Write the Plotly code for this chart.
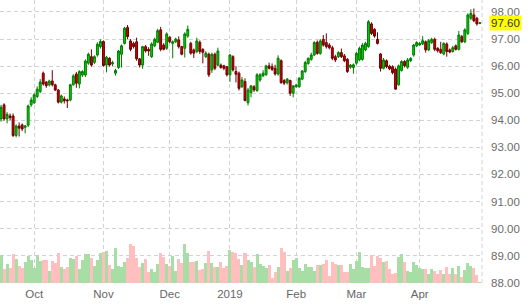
import pandas as pd
import plotly.graph_objects as go

# ---- data ----
start_date = "2018-09-14"
holidays = ["2018-12-25", "2019-01-01"]
n_bars = 160

open_ = [94.05, 94.57, 94.05, 94.16, 94.16, 93.44, 93.79, 93.83, 93.74, 93.82,
         94.57, 94.65, 94.88, 95.06, 95.74, 95.41, 95.31, 95.45, 95.31, 95.12,
         94.67, 94.79, 94.75, 94.75, 95.31, 95.71, 95.34, 95.67, 95.67, 96.11,
         96.35, 96.14, 96.41, 96.72, 96.91, 96.04, 96.29, 96.08, 95.74, 95.95,
         96.44, 96.84, 97.43, 96.93, 96.84, 96.90, 96.27, 96.04, 96.72, 96.62,
         96.35, 96.75, 96.88, 97.34, 96.78, 96.66, 97.07, 96.84, 96.90, 96.97,
         96.72, 96.66, 97.11, 96.84, 96.60, 96.54, 96.88, 96.62, 96.35, 96.44,
         95.86, 96.44, 96.04, 96.04, 96.01, 95.98, 95.68, 96.35, 95.80, 95.74,
         95.24, 95.43, 94.65, 95.02, 95.24, 95.10, 95.49, 95.64, 95.68, 96.01,
         95.98, 95.92, 95.71, 96.20, 95.47, 95.39, 95.47, 95.00, 95.24, 95.24,
         95.52, 95.80, 96.10, 96.25, 96.41, 96.88, 96.47, 96.99, 96.87, 96.78,
         96.68, 96.35, 96.35, 96.50, 96.38, 96.25, 95.96, 95.95, 96.11, 96.23,
         96.25, 96.60, 96.72, 97.56, 97.36, 96.99, 96.45, 95.92, 96.20, 96.00,
         95.98, 95.89, 95.31, 95.84, 96.17, 95.96, 96.20, 96.41, 96.75, 96.78,
         96.82, 96.90, 96.60, 96.87, 96.99, 96.66, 96.62, 96.45, 96.82, 96.60,
         96.54, 96.75, 96.62, 97.09, 96.90, 97.21, 97.77, 97.89, 97.77, 97.58]
high = [94.57, 94.63, 94.30, 94.25, 94.25, 93.85, 93.92, 93.88, 93.83, 94.58,
        94.85, 95.00, 95.25, 95.52, 95.80, 95.45, 95.50, 95.85, 95.35, 95.15,
        94.95, 94.88, 94.80, 95.35, 95.70, 95.78, 95.85, 95.85, 96.25, 96.50,
        96.62, 96.40, 96.88, 96.99, 96.95, 96.38, 96.33, 96.20, 95.90, 96.60,
        96.80, 97.45, 97.52, 97.00, 96.90, 97.05, 96.30, 96.75, 96.78, 96.70,
        96.88, 97.05, 97.38, 97.45, 96.85, 97.25, 97.10, 96.95, 97.05, 97.10,
        96.75, 97.25, 97.50, 96.90, 96.65, 97.05, 96.95, 96.66, 96.55, 96.50,
        96.50, 96.50, 96.68, 96.10, 96.05, 96.00, 96.45, 96.40, 96.00, 95.80,
        95.60, 95.55, 95.20, 95.30, 95.30, 95.74, 95.74, 95.85, 96.05, 96.13,
        96.10, 96.05, 96.40, 96.25, 95.52, 95.56, 95.50, 95.30, 95.35, 95.60,
        95.85, 96.20, 96.32, 96.50, 96.92, 96.95, 97.00, 97.15, 97.21, 96.85,
        96.75, 96.42, 96.55, 96.65, 96.45, 96.30, 96.08, 96.10, 96.52, 96.72,
        96.85, 96.90, 97.70, 97.62, 97.40, 97.25, 96.48, 96.30, 96.25, 96.05,
        96.03, 95.95, 96.06, 96.22, 96.22, 96.30, 96.33, 96.82, 96.92, 96.90,
        97.11, 96.95, 97.00, 97.05, 97.05, 96.70, 96.90, 96.88, 96.88, 96.65,
        96.75, 96.80, 97.30, 97.15, 97.40, 97.95, 98.10, 98.13, 97.82, 97.63]
low = [93.95, 93.98, 93.89, 94.00, 93.38, 93.37, 93.40, 93.60, 93.52, 93.75,
       94.50, 94.60, 94.82, 95.00, 95.28, 95.20, 95.25, 95.25, 95.08, 94.62,
       94.62, 94.62, 94.45, 94.70, 95.28, 95.20, 95.18, 95.60, 95.60, 96.05,
       95.98, 96.08, 96.35, 96.65, 95.98, 95.77, 95.98, 96.00, 95.65, 95.90,
       95.95, 96.80, 97.00, 96.55, 96.65, 96.20, 95.95, 95.90, 96.50, 96.38,
       96.30, 96.70, 96.85, 96.55, 96.58, 96.60, 96.85, 96.29, 96.85, 96.65,
       96.40, 96.32, 97.05, 96.42, 96.30, 96.48, 96.45, 96.10, 96.30, 95.60,
       95.75, 95.85, 96.00, 95.90, 95.85, 95.62, 95.42, 95.80, 95.40, 95.10,
       95.20, 94.70, 94.55, 94.85, 95.05, 95.05, 95.42, 95.60, 95.65, 95.88,
       95.82, 95.65, 95.65, 95.35, 95.30, 95.32, 94.90, 94.85, 95.20, 95.20,
       95.48, 95.75, 96.05, 96.20, 96.38, 96.42, 96.42, 96.72, 96.65, 96.62,
       96.22, 96.15, 96.30, 96.30, 96.15, 95.75, 95.90, 95.72, 96.05, 96.18,
       96.20, 96.55, 96.68, 97.15, 97.05, 96.80, 95.80, 95.88, 95.92, 95.85,
       95.70, 95.13, 95.28, 95.80, 95.95, 95.90, 96.15, 96.35, 96.70, 96.75,
       96.78, 96.50, 96.55, 96.82, 96.55, 96.50, 96.45, 96.40, 96.35, 96.48,
       96.50, 96.58, 96.58, 96.85, 96.85, 97.15, 97.70, 97.62, 97.50, 97.55]
close = [94.48, 94.05, 94.22, 94.10, 93.44, 93.79, 93.71, 93.68, 93.79, 94.53,
         94.75, 94.94, 95.15, 95.41, 95.34, 95.28, 95.45, 95.31, 95.12, 94.67,
         94.90, 94.72, 94.72, 95.31, 95.64, 95.37, 95.80, 95.80, 96.19, 96.44,
         96.04, 96.35, 96.81, 96.91, 96.02, 96.33, 96.04, 96.13, 95.84, 96.56,
         96.75, 97.40, 97.09, 96.62, 96.72, 96.27, 96.04, 96.72, 96.56, 96.56,
         96.82, 96.99, 97.31, 96.62, 96.62, 97.19, 96.90, 96.90, 97.00, 96.72,
         96.44, 97.19, 97.36, 96.48, 96.48, 96.93, 96.54, 96.51, 96.48, 95.68,
         96.44, 95.92, 96.56, 95.95, 95.92, 95.68, 96.41, 95.86, 95.70, 95.18,
         95.49, 94.73, 95.12, 95.27, 95.12, 95.68, 95.68, 95.74, 96.01, 95.92,
         95.88, 95.71, 96.29, 95.39, 95.37, 95.52, 95.00, 95.27, 95.30, 95.55,
         95.82, 96.13, 96.29, 96.41, 96.87, 96.47, 96.93, 96.78, 96.72, 96.68,
         96.29, 96.23, 96.50, 96.35, 96.20, 95.80, 96.04, 96.05, 96.47, 96.66,
         96.78, 96.84, 97.64, 97.21, 97.11, 96.84, 95.92, 96.23, 95.98, 95.90,
         95.76, 95.15, 96.01, 96.17, 96.01, 96.23, 96.29, 96.78, 96.87, 96.84,
         96.94, 96.60, 96.94, 96.99, 96.62, 96.57, 96.50, 96.84, 96.54, 96.52,
         96.68, 96.62, 97.15, 96.90, 97.34, 97.89, 97.95, 97.68, 97.56, 97.60]
volume = [28, 14, 19, 15, 29, 24, 17, 15, 21, 27,
          23, 15, 28, 22, 23, 23, 12, 22, 20, 30,
          16, 14, 16, 25, 24, 27, 14, 23, 29, 29,
          25, 17, 23, 30, 31, 32, 18, 14, 35, 17,
          16, 21, 25, 39, 37, 25, 16, 20, 24, 11,
          14, 11, 19, 30, 26, 19, 17, 27, 12, 24,
          20, 39, 30, 21, 21, 22, 13, 14, 20, 32,
          20, 16, 16, 21, 15, 17, 33, 31, 30, 24,
          18, 30, 23, 21, 16, 29, 19, 17,
          15, 18, 5, 11, 16, 35, 31, 12, 15, 23,
          25, 15, 12, 19, 16, 16, 12, 18, 18, 19,
          23, 7, 21, 19, 18, 18, 11, 11, 19, 14,
          22, 31, 16, 15, 15, 28, 17, 27, 25, 21,
          22, 14, 9, 10, 26, 29, 21, 12, 11, 21,
          18, 15, 14, 14, 9, 14, 12, 9, 13, 9,
          16, 9, 15, 9, 17, 6, 13, 20, 17, 15,
          8, 1]
month_labels = ["Oct", "Nov", "Dec", "2019", "Feb", "Mar", "Apr"]
last_price = 97.60

# ---- build ----
days = [d for d in pd.bdate_range(start_date, periods=n_bars + 10)
        if d.strftime("%Y-%m-%d") not in holidays][:n_bars]
dates = [d.strftime("%Y-%m-%d") for d in days]

tickvals = []
seen = set()
for d in days:
    key = (d.year, d.month)
    if key not in seen:
        seen.add(key)
        if d != days[0]:
            tickvals.append(d.strftime("%Y-%m-%d"))

vol_colors = ["#a9dda6" if c >= o else "#ffbfbf" for o, c in zip(open_, close)]

fig = go.Figure()
fig.add_trace(go.Bar(x=dates, y=volume, yaxis="y2", marker=dict(color=vol_colors, line=dict(width=0)),
                     hoverinfo="skip", showlegend=False))
fig.add_trace(go.Candlestick(
    x=dates, open=open_, high=high, low=low, close=close,
    increasing=dict(line=dict(color="#007a00", width=1), fillcolor="#00d400"),
    decreasing=dict(line=dict(color="#700000", width=1), fillcolor="#cc0000"),
    whiskerwidth=0, showlegend=False, hoverinfo="skip"))

grid = dict(gridcolor="#d2d2d2", gridwidth=1, griddash="4px,3px")
fig.update_layout(
    width=531, height=305,
    margin=dict(l=0, r=49, t=0, b=22),
    paper_bgcolor="white", plot_bgcolor="white",
    font=dict(family="Liberation Sans, Arial, sans-serif", size=11, color="#6b6b6b"),
    bargap=0, boxgap=0.1,
    xaxis=dict(type="category", range=[-0.35, 159.7], tickvals=tickvals, ticktext=month_labels,
               showgrid=True, zeroline=False, showline=False, ticks="",
               ticklabelstandoff=2,
               rangeslider=dict(visible=False), tickfont=dict(size=11.5, color="#666666"),
               fixedrange=True, **grid),
    yaxis=dict(side="right", range=[87.99, 98.443], dtick=1, tickformat=".2f",
               showgrid=True, zeroline=False, showline=False, ticks="",
               ticklabelstandoff=8, tickfont=dict(size=11.5, color="#6b6b6b"),
               fixedrange=True, **grid),
    yaxis2=dict(overlaying="y", range=[0, 283], visible=False, fixedrange=True),
    shapes=[dict(type="line", xref="paper", yref="paper", x0=1, x1=1, y0=0, y1=1,
                 line=dict(color="#d2d2d2", width=1, dash="4px,3px"))],
    annotations=[dict(xref="paper", yref="y", x=1, y=last_price, xanchor="left", yanchor="middle",
                      xshift=7, text=f"{last_price:.2f}", showarrow=False, bgcolor="#ffff00",
                      borderpad=1, font=dict(size=11.5, color="#333333"))],
)
fig.write_html("out.html")
